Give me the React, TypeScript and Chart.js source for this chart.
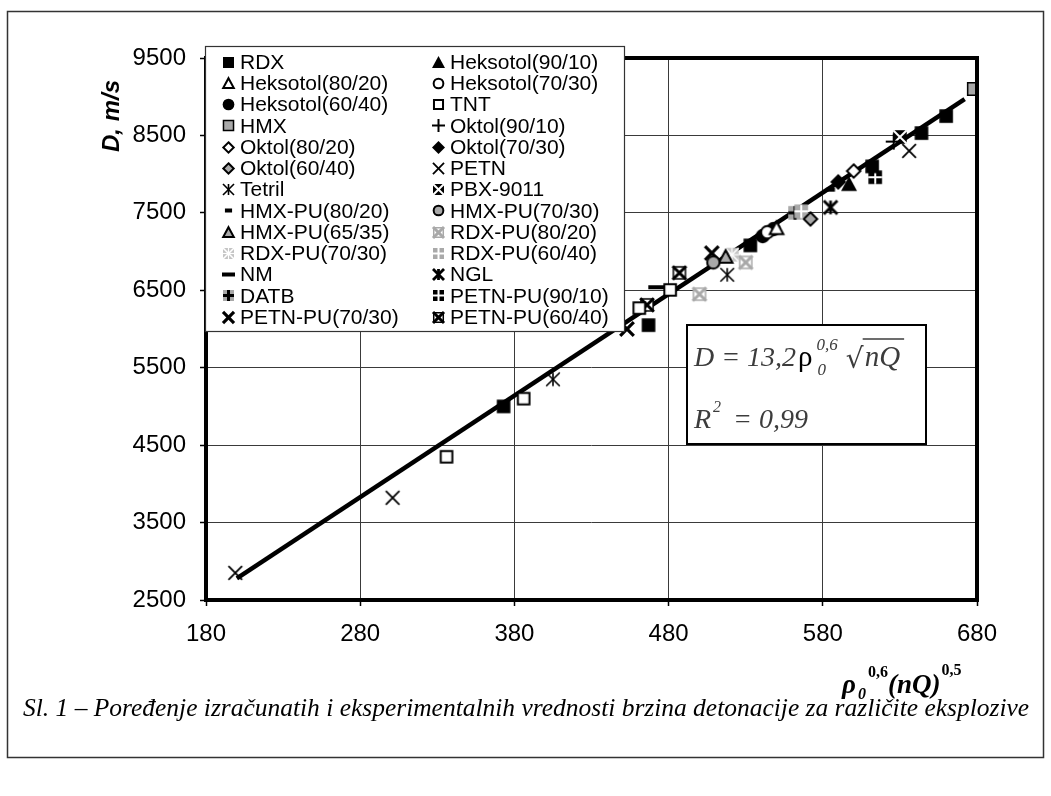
import React, { useEffect, useRef } from 'react';
import { Chart, registerables } from 'chart.js';

Chart.register(...registerables);

const CANVAS_W = 1051;
const CANVAS_H = 796;

// axes
const xMin = 180;
const xMax = 680;
const xStep = 100;
const yMin = 2500;
const yMax = 9500;
const yStep = 1000;

// fitted line D = 13,2 * rho^0.6 * sqrt(nQ)
const fitX = [200, 672];
const fitD = [2780, 8970];

// series values (x = rho0^0.6 (nQ)^0.5, D in m/s)
const rdxX = [373, 467, 533, 612, 644, 660];
const rdxD = [5000, 6050, 7080, 8100, 8530, 8750];
const heks9010X = [597];
const heks9010D = [7870];
const heks8020X = [550];
const heks8020D = [7300];
const heks7030X = [544];
const heks7030D = [7250];
const heks6040X = [541, 548];
const heks6040D = [7200, 7290];
const tntX = [336, 386, 461, 481];
const tntD = [4350, 5100, 6270, 6505];
const hmxX = [678];
const hmxD = [9100];
const okt9010X = [626];
const okt9010D = [8420];
const okt8020X = [600];
const okt8020D = [8040];
const okt7030X = [590];
const okt7030D = [7900];
const okt6040X = [572];
const okt6040D = [7420];
const petnX = [199, 301, 636];
const petnD = [2850, 3820, 8300];
const tetrilX = [405, 518];
const tetrilD = [5350, 6700];
const pbxX = [630];
const pbxD = [8480];
const hmxPu8020X = [585];
const hmxPu8020D = [7800];
const hmxPu7030X = [509];
const hmxPu7030D = [6860];
const hmxPu6535X = [517];
const hmxPu6535D = [6930];
const rdxPu8020X = [500, 530];
const rdxPu8020D = [6450, 6860];
const rdxPu7030X = [521];
const rdxPu7030D = [6960];
const rdxPu6040X = [566];
const rdxPu6040D = [7520];
const nmX = [472];
const nmD = [6540];
const nglX = [585];
const nglD = [7570];
const datbX = [562];
const datbD = [7500];
const petnPu9010X = [614];
const petnPu9010D = [7960];
const petnPu7030X = [453, 508];
const petnPu7030D = [6000, 6980];
const petnPu6040X = [466, 487];
const petnPu6040D = [6311, 6725];

const SERIES = [
  { name: 'RDX', kind: 'sqFill', xs: rdxX, ys: rdxD },
  { name: 'Heksotol(90/10)', kind: 'triFill', xs: heks9010X, ys: heks9010D },
  { name: 'Heksotol(80/20)', kind: 'triOpen', xs: heks8020X, ys: heks8020D },
  { name: 'Heksotol(70/30)', kind: 'circOpen', xs: heks7030X, ys: heks7030D },
  { name: 'Heksotol(60/40)', kind: 'circFill', xs: heks6040X, ys: heks6040D },
  { name: 'TNT', kind: 'sqOpen', xs: tntX, ys: tntD },
  { name: 'HMX', kind: 'sqGray', xs: hmxX, ys: hmxD },
  { name: 'Oktol(90/10)', kind: 'plus', xs: okt9010X, ys: okt9010D },
  { name: 'Oktol(80/20)', kind: 'diaOpen', xs: okt8020X, ys: okt8020D },
  { name: 'Oktol(70/30)', kind: 'diaFill', xs: okt7030X, ys: okt7030D },
  { name: 'Oktol(60/40)', kind: 'diaGray', xs: okt6040X, ys: okt6040D },
  { name: 'PETN', kind: 'x', xs: petnX, ys: petnD },
  { name: 'Tetril', kind: 'asterisk', xs: tetrilX, ys: tetrilD },
  { name: 'PBX-9011', kind: 'boxXBlack', xs: pbxX, ys: pbxD },
  { name: 'HMX-PU(80/20)', kind: 'dashShort', xs: hmxPu8020X, ys: hmxPu8020D },
  { name: 'HMX-PU(70/30)', kind: 'circGray', xs: hmxPu7030X, ys: hmxPu7030D },
  { name: 'HMX-PU(65/35)', kind: 'triGray', xs: hmxPu6535X, ys: hmxPu6535D },
  { name: 'RDX-PU(80/20)', kind: 'boxXGray', xs: rdxPu8020X, ys: rdxPu8020D },
  { name: 'RDX-PU(70/30)', kind: 'boxXLight', xs: rdxPu7030X, ys: rdxPu7030D },
  { name: 'RDX-PU(60/40)', kind: 'quadGray', xs: rdxPu6040X, ys: rdxPu6040D },
  { name: 'NM', kind: 'dashLong', xs: nmX, ys: nmD },
  { name: 'NGL', kind: 'asteriskBold', xs: nglX, ys: nglD },
  { name: 'DATB', kind: 'plusGray', xs: datbX, ys: datbD },
  { name: 'PETN-PU(90/10)', kind: 'quadBlack', xs: petnPu9010X, ys: petnPu9010D },
  { name: 'PETN-PU(70/30)', kind: 'xBold', xs: petnPu7030X, ys: petnPu7030D },
  { name: 'PETN-PU(60/40)', kind: 'boxX', xs: petnPu6040X, ys: petnPu6040D },
];

const CAPTION =
  'Sl. 1 – Poređenje izračunatih i eksperimentalnih vrednosti brzina detonacije za različite eksplozive';

function makeMarker(kind: string, s: number): HTMLCanvasElement {
  const size = Math.ceil(s) + 6;
  const cv = document.createElement('canvas');
  cv.width = size;
  cv.height = size;
  const g = cv.getContext('2d') as CanvasRenderingContext2D;
  const c = size / 2;
  const h = s / 2;
  const GRAY = '#a9a9a9';
  const LIGHT = '#c4c4c4';
  g.lineJoin = 'miter';
  g.lineCap = 'butt';
  const poly = (pts: number[][]) => {
    g.beginPath();
    pts.forEach((p, i) => (i ? g.lineTo(c + p[0], c + p[1]) : g.moveTo(c + p[0], c + p[1])));
    g.closePath();
  };
  const seg = (x1: number, y1: number, x2: number, y2: number, w: number, col = '#000') => {
    g.beginPath();
    g.moveTo(c + x1, c + y1);
    g.lineTo(c + x2, c + y2);
    g.lineWidth = w;
    g.strokeStyle = col;
    g.stroke();
  };
  const sq = (r: number) => poly([[-r, -r], [r, -r], [r, r], [-r, r]]);
  const tri = (r: number) => poly([[0, -r], [r, r * 0.85], [-r, r * 0.85]]);
  const dia = (r: number) => poly([[0, -r], [r, 0], [0, r], [-r, 0]]);
  const circ = (r: number) => {
    g.beginPath();
    g.arc(c, c, r, 0, Math.PI * 2);
  };
  const fill = (col: string) => {
    g.fillStyle = col;
    g.fill();
  };
  const stroke = (w: number, col = '#000') => {
    g.lineWidth = w;
    g.strokeStyle = col;
    g.stroke();
  };
  const r = h * 0.85;
  switch (kind) {
    case 'sqFill': sq(r); fill('#000'); break;
    case 'sqOpen': sq(r - 1); fill('#fff'); stroke(2); break;
    case 'sqGray': sq(r - 0.5); fill(GRAY); stroke(1.5); break;
    case 'triFill': tri(h); fill('#000'); break;
    case 'triOpen': tri(h - 1.2); fill('#fff'); stroke(2); break;
    case 'triGray': tri(h - 1.2); fill(GRAY); stroke(2); break;
    case 'circFill': circ(h * 0.9); fill('#000'); break;
    case 'circOpen': circ(h * 0.9 - 1); fill('#fff'); stroke(2); break;
    case 'circGray': circ(h * 0.9 - 1); fill(GRAY); stroke(2); break;
    case 'diaFill': dia(h); fill('#000'); break;
    case 'diaOpen': dia(h - 1.3); fill('#fff'); stroke(2); break;
    case 'diaGray': dia(h - 1.3); fill(GRAY); stroke(2); break;
    case 'plus': seg(-h, 0, h, 0, 2); seg(0, -h, 0, h, 2); break;
    case 'x': seg(-r, -r, r, r, 1.8); seg(-r, r, r, -r, 1.8); break;
    case 'xBold': seg(-r, -r, r, r, 3.2); seg(-r, r, r, -r, 3.2); break;
    case 'asterisk': seg(-r, -r, r, r, 1.6); seg(-r, r, r, -r, 1.6); seg(0, -r, 0, r, 1.6); break;
    case 'asteriskBold': seg(-r, -r, r, r, 2.8); seg(-r, r, r, -r, 2.8); seg(0, -r, 0, r, 2.8); break;
    case 'boxXBlack': sq(r); fill('#000'); seg(-r, -r, r, r, 2, '#fff'); seg(-r, r, r, -r, 2, '#fff'); break;
    case 'boxX': sq(r - 0.75); fill('#fff'); stroke(1.5); seg(-r, -r, r, r, 3); seg(-r, r, r, -r, 3); break;
    case 'boxXGray': sq(r - 0.75); fill('#fff'); stroke(1.5, GRAY); seg(-r, -r, r, r, 3, GRAY); seg(-r, r, r, -r, 3, GRAY); break;
    case 'boxXLight':
      sq(r); fill(LIGHT);
      seg(-r, -r, r, r, 1.6, '#fff'); seg(-r, r, r, -r, 1.6, '#fff');
      seg(0, -r, 0, r, 1.2, '#fff'); seg(-r, 0, r, 0, 1.2, '#fff');
      break;
    case 'quadGray': sq(r); fill(GRAY); seg(0, -r, 0, r, 2, '#fff'); seg(-r, 0, r, 0, 2, '#fff'); break;
    case 'quadBlack': sq(r); fill('#000'); seg(0, -r, 0, r, 2, '#fff'); seg(-r, 0, r, 0, 2, '#fff'); break;
    case 'plusGray': sq(r); fill(GRAY); seg(-r, 0, r, 0, 3); seg(0, -r, 0, r, 3); break;
    case 'dashShort': g.fillStyle = '#000'; g.fillRect(c - h * 0.55, c - 2, h * 1.1, 4); break;
    case 'dashLong': g.fillStyle = '#000'; g.fillRect(c - h, c - 2, 2 * h, 4); break;
    default: break;
  }
  return cv;
}

export default function App() {
  const canvasRef = useRef<HTMLCanvasElement | null>(null);

  useEffect(() => {
    const canvas = canvasRef.current;
    if (!canvas) return;
    document.body.style.margin = '0';

    const plotMarkers = SERIES.map((s) => makeMarker(s.kind, 16));
    const legendMarkers = SERIES.map((s) => makeMarker(s.kind, 13));

    const datasets: any[] = SERIES.map((s, i) => ({
      label: s.name,
      data: s.xs.map((x, j) => ({ x, y: s.ys[j] })),
      pointStyle: plotMarkers[i],
      pointRadius: 8,
      showLine: false,
      order: 1,
    }));
    datasets.push({
      label: 'fit',
      data: fitX.map((x, j) => ({ x, y: fitD[j] })),
      showLine: true,
      borderColor: '#000',
      borderWidth: 4.5,
      pointRadius: 0,
      order: 50,
    });

    const decor = {
      id: 'decor',
      beforeDraw(chart: any) {
        const ctx = chart.ctx;
        ctx.save();
        ctx.fillStyle = '#fff';
        ctx.fillRect(0, 0, CANVAS_W, CANVAS_H);
        ctx.strokeStyle = '#333';
        ctx.lineWidth = 1.5;
        ctx.strokeRect(7.5, 11.5, 1036, 746);
        ctx.restore();
      },
      afterDatasetsDraw(chart: any) {
        const { ctx, chartArea: a } = chart;
        ctx.save();
        ctx.strokeStyle = '#000';
        ctx.lineWidth = 4;
        ctx.strokeRect(a.left, a.top, a.right - a.left, a.bottom - a.top);
        ctx.restore();
      },
      afterDraw(chart: any) {
        const ctx: CanvasRenderingContext2D = chart.ctx;
        ctx.save();

        // legend
        ctx.fillStyle = '#fff';
        ctx.fillRect(205, 46, 420, 286);
        ctx.strokeStyle = '#333';
        ctx.lineWidth = 1.2;
        ctx.strokeRect(205.5, 46.5, 419, 285);
        ctx.font = "21px 'Liberation Sans', Arial, sans-serif";
        ctx.fillStyle = '#000';
        ctx.textBaseline = 'middle';
        ctx.textAlign = 'left';
        SERIES.forEach((s, i) => {
          const row = Math.floor(i / 2);
          const col = i % 2;
          const y = 62 + row * 21.25;
          const sx = col ? 438 : 228;
          const tx = col ? 450 : 240;
          const m = legendMarkers[i];
          ctx.drawImage(m, Math.round(sx - m.width / 2), Math.round(y - m.height / 2));
          ctx.fillText(s.name, tx, y + 1);
        });

        // equation box
        ctx.fillStyle = '#fff';
        ctx.fillRect(687, 325, 239, 119);
        ctx.strokeStyle = '#000';
        ctx.lineWidth = 2;
        ctx.strokeRect(687, 325, 239, 119);
        ctx.textBaseline = 'alphabetic';
        const eqCol = '#3c3c3c';
        let x = 694;
        ctx.fillStyle = eqCol;
        ctx.font = "italic 28px 'Liberation Serif', serif";
        ctx.fillText('D = 13,2', x, 366);
        x += ctx.measureText('D = 13,2').width + 2;
        ctx.fillStyle = '#000';
        ctx.font = "29px 'Liberation Serif', serif";
        ctx.fillText('ρ', x, 366);
        x += ctx.measureText('ρ').width + 4;
        ctx.fillStyle = eqCol;
        ctx.font = "italic 17px 'Liberation Serif', serif";
        ctx.fillText('0,6', x, 350);
        ctx.fillText('0', x + 1, 375);
        x += ctx.measureText('0,6').width + 8;
        ctx.font = "28px 'DejaVu Serif', serif";
        ctx.fillText('√', x, 368);
        const rw = ctx.measureText('√').width;
        x += rw;
        ctx.font = "italic 29px 'Liberation Serif', serif";
        const nqw = ctx.measureText('nQ').width;
        ctx.fillText('nQ', x + 1, 366);
        ctx.strokeStyle = eqCol;
        ctx.lineWidth = 1.5;
        ctx.beginPath();
        ctx.moveTo(x - 1, 339);
        ctx.lineTo(x + nqw + 5, 339);
        ctx.stroke();

        x = 694;
        ctx.font = "italic 28px 'Liberation Serif', serif";
        ctx.fillText('R', x, 428);
        x += ctx.measureText('R').width + 2;
        ctx.font = "italic 16px 'Liberation Serif', serif";
        ctx.fillText('2', x, 412);
        x += ctx.measureText('2').width + 12;
        ctx.font = "italic 28px 'Liberation Serif', serif";
        ctx.fillText('= 0,99', x, 428);

        // x axis title
        ctx.fillStyle = '#000';
        x = 842;
        ctx.font = "bold italic 27px 'Liberation Serif', serif";
        ctx.fillText('ρ', x, 693);
        x += ctx.measureText('ρ').width + 2;
        ctx.font = "bold italic 16px 'Liberation Serif', serif";
        ctx.fillText('0', x, 699);
        x += ctx.measureText('0').width + 2;
        ctx.font = "bold 16px 'Liberation Serif', serif";
        ctx.fillText('0,6', x, 677);
        x += ctx.measureText('0,6').width;
        ctx.font = "bold italic 27px 'Liberation Serif', serif";
        ctx.fillText('(nQ)', x, 693);
        x += ctx.measureText('(nQ)').width + 1;
        ctx.font = "bold 16px 'Liberation Serif', serif";
        ctx.fillText('0,5', x, 675);

        // y axis title
        ctx.save();
        ctx.translate(112, 116);
        ctx.rotate(-Math.PI / 2);
        ctx.font = "bold italic 24px 'Liberation Sans', Arial, sans-serif";
        ctx.textAlign = 'center';
        ctx.textBaseline = 'middle';
        ctx.fillText('D, m/s', 0, 0);
        ctx.restore();

        // caption
        ctx.font = "italic 22px 'Liberation Serif', serif";
        const w22 = ctx.measureText(CAPTION).width;
        const fs = (22 * 1006) / w22;
        ctx.font = `italic ${fs.toFixed(2)}px 'Liberation Serif', serif`;
        ctx.fillStyle = '#000';
        ctx.textAlign = 'left';
        ctx.fillText(CAPTION, 23, 716);

        ctx.restore();
      },
    };

    const tickFont = { family: "'Liberation Sans', Arial, sans-serif", size: 24 };
    const plain = (v: any) => String(v);

    const chart = new Chart(canvas, {
      type: 'scatter',
      data: { datasets },
      options: {
        animation: false,
        responsive: false,
        maintainAspectRatio: false,
        devicePixelRatio: 1,
        events: [],
        layout: { padding: { top: 58, right: 74, left: 0, bottom: 0 } },
        plugins: {
          legend: { display: false },
          tooltip: { enabled: false },
        },
        scales: {
          x: {
            type: 'linear',
            position: 'bottom',
            min: xMin,
            max: xMax,
            ticks: { stepSize: xStep, color: '#000', font: tickFont, padding: 14, maxRotation: 0, autoSkip: false, callback: plain },
            grid: { color: '#3a3a3a', lineWidth: 1, tickLength: 6, tickColor: '#000', tickWidth: 1.5 },
            border: { display: false },
            afterFit: (scale: any) => {
              scale.height = CANVAS_H - 600;
            },
          },
          y: {
            type: 'linear',
            min: yMin,
            max: yMax,
            ticks: { stepSize: yStep, color: '#000', font: tickFont, padding: 14, callback: plain },
            grid: { color: '#3a3a3a', lineWidth: 1, tickLength: 6, tickColor: '#000', tickWidth: 1.5 },
            border: { display: false },
            afterFit: (scale: any) => {
              scale.width = 206;
            },
          },
        },
      } as any,
      plugins: [decor],
    });

    return () => chart.destroy();
  }, []);

  return (
    <canvas
      ref={canvasRef}
      width={CANVAS_W}
      height={CANVAS_H}
      style={{ position: 'fixed', left: 0, top: 0, width: `${CANVAS_W}px`, height: `${CANVAS_H}px` }}
    />
  );
}
